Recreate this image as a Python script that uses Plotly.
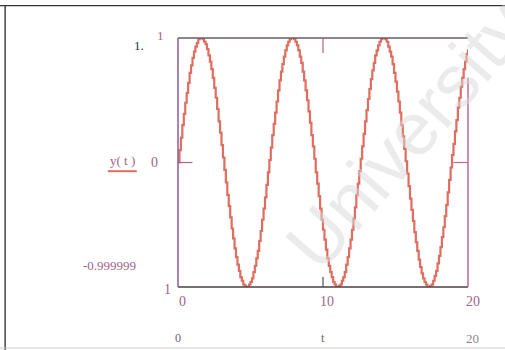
import plotly.graph_objects as go

# time samples t = 0 .. 20 in steps of 0.1
t_start, t_step, n_samples = 0.0, 0.1, 201
t = [round(t_start + i * t_step, 1) for i in range(n_samples)]

# sampled signal y(t)
y = [
    0.00, 0.10, 0.20, 0.30, 0.39, 0.48, 0.56, 0.64, 0.72, 0.78,
    0.84, 0.89, 0.93, 0.96, 0.99, 1.00, 1.00, 0.99, 0.97, 0.95,
    0.91, 0.86, 0.81, 0.75, 0.68, 0.60, 0.52, 0.43, 0.33, 0.24,
    0.14, 0.04, -0.06, -0.16, -0.26, -0.35, -0.44, -0.53, -0.61, -0.69,
    -0.76, -0.82, -0.87, -0.92, -0.95, -0.98, -0.99, -1.00, -1.00, -0.98,
    -0.96, -0.93, -0.88, -0.83, -0.77, -0.71, -0.63, -0.55, -0.46, -0.37,
    -0.28, -0.18, -0.08, 0.02, 0.12, 0.22, 0.31, 0.40, 0.49, 0.58,
    0.66, 0.73, 0.79, 0.85, 0.90, 0.94, 0.97, 0.99, 1.00, 1.00,
    0.99, 0.97, 0.94, 0.90, 0.85, 0.80, 0.73, 0.66, 0.58, 0.50,
    0.41, 0.32, 0.22, 0.13, 0.03, -0.08, -0.17, -0.27, -0.37, -0.46,
    -0.54, -0.62, -0.70, -0.77, -0.83, -0.88, -0.92, -0.96, -0.98, -1.00,
    -1.00, -0.99, -0.98, -0.95, -0.92, -0.88, -0.82, -0.76, -0.69, -0.62,
    -0.54, -0.45, -0.36, -0.26, -0.17, -0.07, 0.03, 0.13, 0.23, 0.33,
    0.42, 0.51, 0.59, 0.67, 0.74, 0.80, 0.86, 0.90, 0.94, 0.97,
    0.99, 1.00, 1.00, 0.99, 0.97, 0.93, 0.89, 0.85, 0.79, 0.72,
    0.65, 0.57, 0.49, 0.40, 0.30, 0.21, 0.11, 0.01, -0.09, -0.19,
    -0.29, -0.38, -0.47, -0.56, -0.64, -0.71, -0.78, -0.84, -0.89, -0.93,
    -0.96, -0.98, -1.00, -1.00, -0.99, -0.98, -0.95, -0.91, -0.87, -0.81,
    -0.75, -0.68, -0.60, -0.52, -0.43, -0.34, -0.24, -0.14, -0.04, 0.06,
    0.15, 0.25, 0.34, 0.44, 0.52, 0.61, 0.68, 0.75, 0.81, 0.87,
    0.91,
]

x_range = [0, 20]
y_range = [-1, 1]
x_mid = 10

SERIF = "Liberation Serif, Times New Roman, serif"
MAUVE = "#a06488"
CURVE = "#de6e60"

fig = go.Figure()
fig.add_trace(go.Scatter(
    x=t, y=y, mode="lines", line_shape="hv",
    line=dict(color=CURVE, width=2.2), hoverinfo="skip", showlegend=False,
))

shapes = [
    # plot frame
    dict(type="line", xref="paper", yref="paper", x0=0, x1=1, y0=1, y1=1,
         line=dict(color="#6a5a66", width=1.5)),
    dict(type="line", xref="paper", yref="paper", x0=0, x1=1, y0=0, y1=0,
         line=dict(color="#4a4044", width=1.5)),
    dict(type="line", xref="paper", yref="paper", x0=0, x1=0, y0=0, y1=1,
         line=dict(color="#8a5c98", width=1.5)),
    dict(type="line", xref="paper", yref="paper", x0=1, x1=1, y0=0, y1=0.84,
         line=dict(color="#c8649c", width=1.5)),
    # inner tick marks at t = 10 and y = 0
    dict(type="line", xref="x", yref="paper", x0=x_mid, x1=x_mid, y0=1, y1=0.94,
         line=dict(color="#b06090", width=1.2)),
    dict(type="line", xref="x", yref="paper", x0=x_mid, x1=x_mid, y0=0, y1=0.04,
         line=dict(color="#505050", width=1.2)),
    dict(type="line", xref="paper", yref="y", x0=0, x1=0.05, y0=0, y1=0,
         line=dict(color="#b06090", width=1.2)),
    dict(type="line", xref="paper", yref="y", x0=0.95, x1=1, y0=0, y1=0,
         line=dict(color="#c8649c", width=1.2)),
    # red underline beneath the y(t) label
    dict(type="line", xref="paper", yref="paper", x0=-0.242, x1=-0.142,
         y0=0.465, y1=0.465, line=dict(color=CURVE, width=2)),
    # outer page frame
    dict(type="line", xref="paper", yref="paper", x0=-0.62, x1=1.14,
         y0=1.13, y1=1.13, line=dict(color="#333333", width=1.2)),
    dict(type="line", xref="paper", yref="paper", x0=-0.596, x1=-0.596,
         y0=1.13, y1=-0.26, line=dict(color="#444444", width=1.5)),
    dict(type="line", xref="paper", yref="paper", x0=-0.62, x1=1.14,
         y0=-0.245, y1=-0.245, line=dict(color="#cccccc", width=1)),
]

annotations = [
    dict(text="University", x=0.79, y=0.61, xref="paper", yref="paper",
         xanchor="center", yanchor="middle",
         textangle=-49, showarrow=False,
         font=dict(family="Liberation Sans, Arial, sans-serif", size=74,
                   color="rgba(215,215,215,0.5)")),
    # y-axis labels
    dict(text="1", x=-0.06, y=1.01, xref="paper", yref="paper", showarrow=False,
         xanchor="center", yanchor="middle", font=dict(family=SERIF, size=13, color=MAUVE)),
    dict(text="1.", x=-0.135, y=0.97, xref="paper", yref="paper", showarrow=False,
         xanchor="center", yanchor="middle", font=dict(family=SERIF, size=13, color="#333333")),
    dict(text="0", x=-0.08, y=0.5, xref="paper", yref="paper", showarrow=False,
         xanchor="center", yanchor="middle", font=dict(family=SERIF, size=14, color=MAUVE)),
    dict(text="y( t )", x=-0.19, y=0.51, xref="paper", yref="paper", showarrow=False,
         xanchor="center", yanchor="middle", font=dict(family=SERIF, size=13, color=MAUVE)),
    dict(text="-0.999999", x=-0.235, y=0.085, xref="paper", yref="paper", showarrow=False,
         xanchor="center", yanchor="middle", font=dict(family=SERIF, size=13, color=MAUVE)),
    dict(text="1", x=-0.035, y=-0.01, xref="paper", yref="paper", showarrow=False,
         xanchor="center", yanchor="middle", font=dict(family=SERIF, size=14, color=MAUVE)),
    # x-axis labels
    dict(text="0", x=x_range[0], y=-0.06, xref="x", yref="paper", showarrow=False,
         xshift=4, yanchor="middle", font=dict(family=SERIF, size=14, color=MAUVE)),
    dict(text=str(x_mid), x=x_mid, y=-0.06, xref="x", yref="paper", showarrow=False,
         xshift=4, yanchor="middle", font=dict(family=SERIF, size=14, color=MAUVE)),
    dict(text=str(x_range[1]), x=x_range[1], y=-0.06, xref="x", yref="paper", showarrow=False,
         xshift=5, yanchor="middle", font=dict(family=SERIF, size=14, color=MAUVE)),
    dict(text="0", x=x_range[0], y=-0.205, xref="x", yref="paper", showarrow=False,
         yanchor="middle", font=dict(family=SERIF, size=12, color="#666666")),
    dict(text="t", x=x_mid, y=-0.205, xref="x", yref="paper", showarrow=False,
         yanchor="middle", font=dict(family=SERIF, size=12, color="#666666")),
    dict(text=str(x_range[1]), x=x_range[1], y=-0.205, xref="x", yref="paper", showarrow=False,
         xshift=4, yanchor="middle", font=dict(family=SERIF, size=13, color="#888888")),
]

fig.update_layout(
    width=505, height=350,
    margin=dict(l=178, r=37, t=38, b=63),
    paper_bgcolor="white", plot_bgcolor="white",
    xaxis=dict(range=x_range, showgrid=False, zeroline=False, showticklabels=False,
               ticks="", showline=False, fixedrange=True),
    yaxis=dict(range=y_range, showgrid=False, zeroline=False, showticklabels=False,
               ticks="", showline=False, fixedrange=True),
    shapes=shapes, annotations=annotations,
)

fig.write_html("out.html")
